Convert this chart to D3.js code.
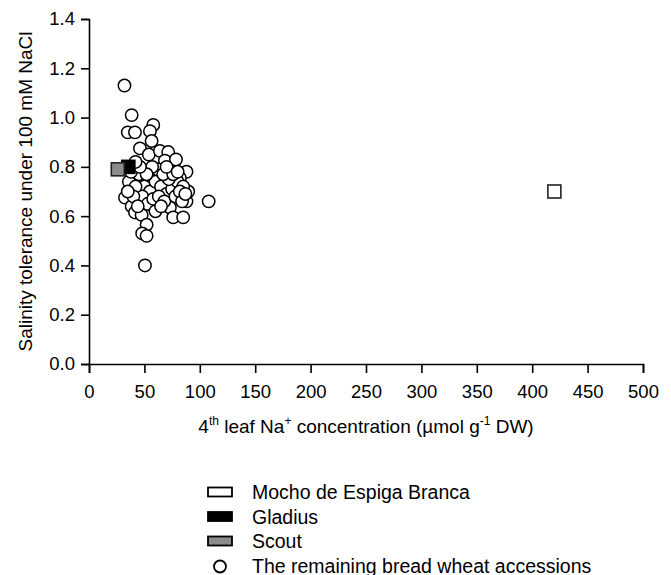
<!DOCTYPE html>
<html>
<head>
<meta charset="utf-8">
<script src="https://cdn.jsdelivr.net/npm/d3@7"></script>
<style>
  body { margin: 0; background: #fff; }
  svg text { font-family: "Liberation Sans", Arial, sans-serif; fill: #000; }
</style>
</head>
<body>
<svg id="chart" width="671" height="575"></svg>
<script>
// remaining bread wheat accessions: [Na+ conc, salinity tolerance]
const accessions = [
  [32, 1.13], [38.5, 1.01], [58, 0.97], [35, 0.94], [41.5, 0.94], [55, 0.945],
  [56.5, 0.905], [46, 0.875], [54, 0.85], [64, 0.865], [71.5, 0.86], [68.5, 0.825],
  [78.5, 0.83], [44.5, 0.79], [36, 0.74], [88, 0.78], [82, 0.755], [62.5, 0.76],
  [32.5, 0.675], [38.5, 0.64], [41.5, 0.615], [47.5, 0.605], [58, 0.64], [73, 0.635],
  [76, 0.595], [85, 0.595], [88, 0.66], [89.5, 0.70], [108, 0.66], [52, 0.565],
  [48, 0.53], [52, 0.52], [50.5, 0.40],
  [45, 0.77], [50, 0.72], [55, 0.70], [60, 0.74], [65, 0.72], [70, 0.69], [75, 0.71],
  [80, 0.74], [85, 0.72], [48, 0.68], [53, 0.65], [58, 0.67], [63, 0.68], [68, 0.66],
  [72, 0.75], [78, 0.68], [82, 0.70], [42, 0.72], [40, 0.68], [44, 0.64], [62, 0.79],
  [57, 0.80], [52, 0.77], [67, 0.77], [76, 0.77], [84, 0.66], [38, 0.78], [46, 0.80],
  [70, 0.80], [80, 0.78], [87, 0.69], [60, 0.62], [65, 0.64], [35, 0.70], [42, 0.82]
];
const mocho = [420, 0.70];
const gladius = [35.5, 0.80];
const scout = [26, 0.79];

const xTicks = [0, 50, 100, 150, 200, 250, 300, 350, 400, 450, 500];
const yTicks = [0, 0.2, 0.4, 0.6, 0.8, 1.0, 1.2, 1.4];
const legendLabels = ['Mocho de Espiga Branca', 'Gladius', 'Scout', 'The remaining bread wheat accessions'];
const legendFills = ['#fff', '#000', '#8c8c8c', '#fff'];

const svg = d3.select('#chart');
const x = d3.scaleLinear().domain([0, 500]).range([89, 643]);
const y = d3.scaleLinear().domain([0, 1.4]).range([364, 19]);

const xAxis = svg.append('g')
  .attr('transform', `translate(0,${y(0)})`)
  .call(d3.axisBottom(x).tickValues(xTicks).tickSize(9).tickPadding(12).tickFormat(d3.format('d')));
const yAxis = svg.append('g')
  .attr('transform', `translate(${x(0)},0)`)
  .call(d3.axisLeft(y).tickValues(yTicks).tickSize(8).tickPadding(6).tickFormat(d3.format('.1f')));

[xAxis, yAxis].forEach(a => {
  a.select('.domain').attr('stroke-width', 1.6);
  a.selectAll('.tick line').attr('stroke-width', 1.6);
  a.selectAll('.tick text').attr('font-size', 18.5).attr('font-family', '"Liberation Sans", Arial, sans-serif');
});

// axis titles
const xTitle = svg.append('text')
  .attr('x', x(250)).attr('y', 433)
  .attr('text-anchor', 'middle').attr('font-size', 19);
xTitle.append('tspan').text('4');
xTitle.append('tspan').text('th').attr('font-size', 12).attr('dy', -8);
xTitle.append('tspan').text(' leaf Na').attr('dy', 8);
xTitle.append('tspan').text('+').attr('font-size', 12).attr('dy', -8);
xTitle.append('tspan').text(' concentration (µmol g').attr('dy', 8);
xTitle.append('tspan').text('-1').attr('font-size', 12).attr('dy', -8);
xTitle.append('tspan').text(' DW)').attr('dy', 8);

svg.append('text')
  .attr('transform', `translate(32,${y(0.7)}) rotate(-90)`)
  .attr('text-anchor', 'middle').attr('font-size', 19)
  .text('Salinity tolerance under 100 mM NaCl');

// points
const pts = svg.append('g');
pts.selectAll('circle')
  .data(accessions)
  .join('circle')
  .attr('cx', d => x(d[0])).attr('cy', d => y(d[1])).attr('r', 6.2)
  .attr('fill', '#fff').attr('stroke', '#000').attr('stroke-width', 1.5);

const squares = [[mocho, '#fff'], [gladius, '#000'], [scout, '#8c8c8c']];
pts.selectAll('rect')
  .data(squares)
  .join('rect')
  .attr('x', d => x(d[0][0]) - 6.5).attr('y', d => y(d[0][1]) - 6.5)
  .attr('width', 13).attr('height', 13)
  .attr('fill', d => d[1]).attr('stroke', d => d[1] === '#000' ? '#000' : '#222').attr('stroke-width', 1.6);

// legend
const legend = svg.append('g').attr('transform', 'translate(208,492)');
const rows = legend.selectAll('g')
  .data(legendLabels)
  .join('g')
  .attr('transform', (d, i) => `translate(0,${i * 24.5})`);
rows.filter((d, i) => i < 3).append('rect')
  .attr('x', 0).attr('y', -4.5).attr('width', 24).attr('height', 9)
  .attr('fill', (d, i) => legendFills[i]).attr('stroke', '#000').attr('stroke-width', 1.8);
rows.filter((d, i) => i === 3).append('circle')
  .attr('cx', 12).attr('cy', 1).attr('r', 6)
  .attr('fill', '#fff').attr('stroke', '#000').attr('stroke-width', 1.8);
rows.append('text')
  .attr('x', 44).attr('y', 7).attr('font-size', 19.5)
  .text(d => d);
</script>
</body>
</html>
